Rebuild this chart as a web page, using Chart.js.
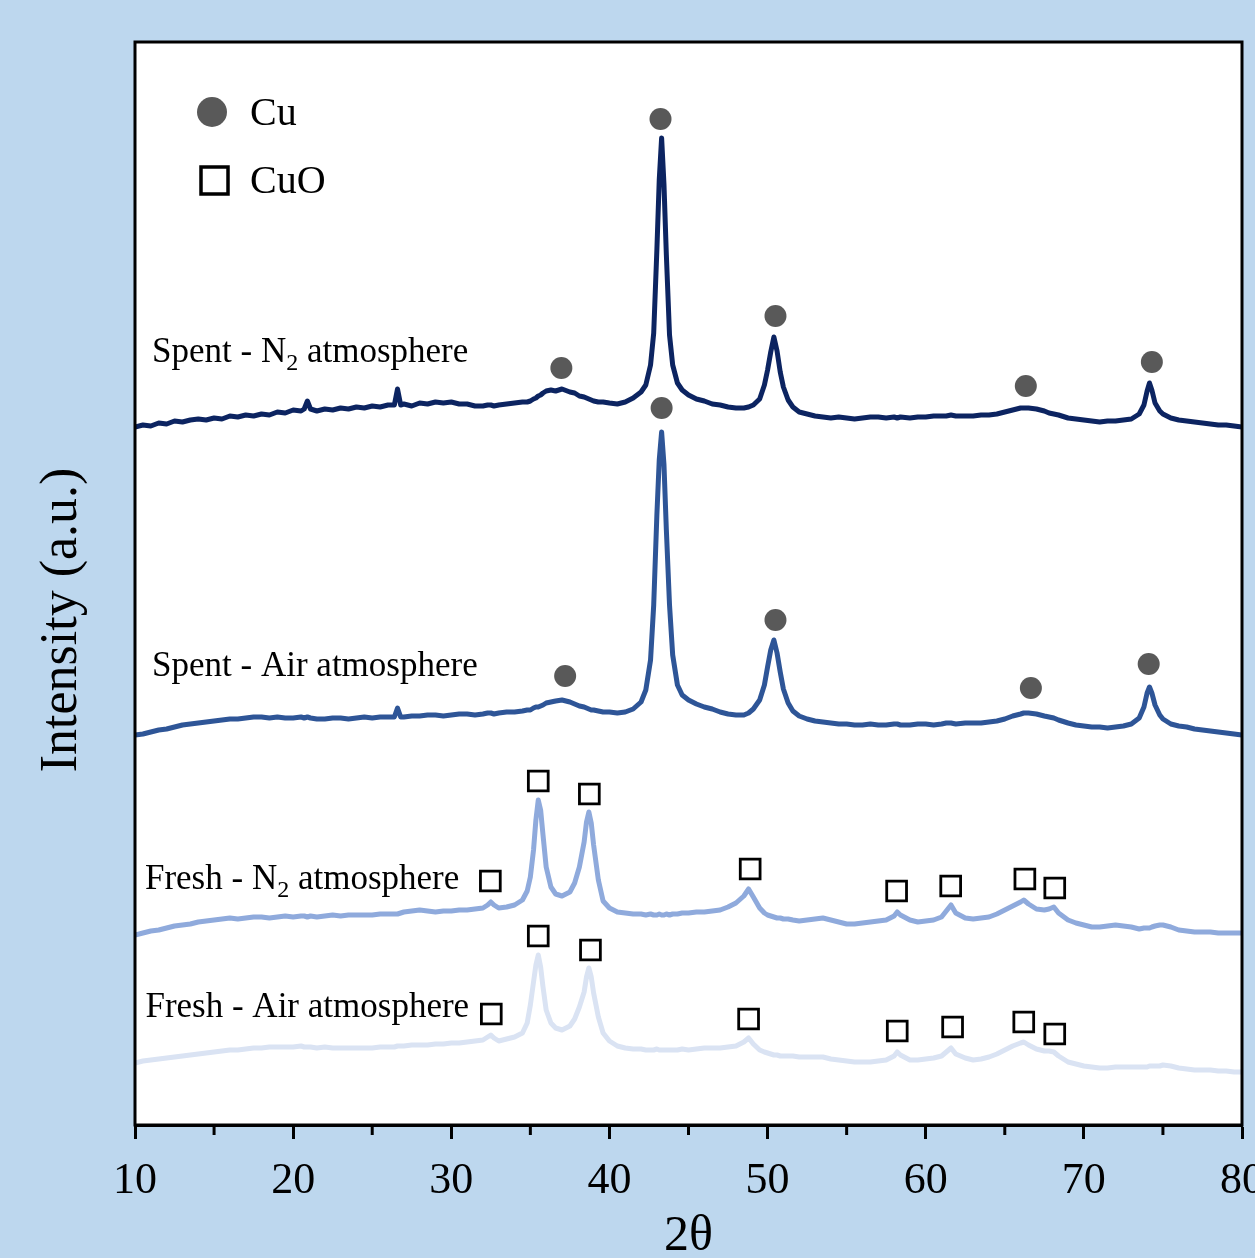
<!DOCTYPE html>
<html>
<head>
<meta charset="utf-8">
<script src="https://cdn.jsdelivr.net/npm/chart.js"></script>
<style>
  html, body { margin: 0; padding: 0; background: #bdd7ee; }
</style>
</head>
<body>
<canvas id="xrdChart" width="1255" height="1258"></canvas>
<script>
// 2θ positions (degrees), shared by the four patterns
var twoTheta = [
  10, 10.5, 11, 11.5, 12, 12.5, 13, 13.5, 14, 14.5,
  15, 15.5, 16, 16.5, 17, 17.5, 18, 18.5, 19, 19.5,
  20, 20.5, 20.7, 20.9, 21.1, 21.5, 22, 22.5, 23, 23.5,
  24, 24.5, 25, 25.5, 26, 26.4, 26.6, 26.8, 27, 27.5,
  28, 28.5, 29, 29.5, 30, 30.5, 31, 31.5, 32, 32.3,
  32.5, 32.7, 33, 33.5, 34, 34.5, 34.8, 35, 35.2, 35.35,
  35.5, 35.65, 35.8, 36, 36.3, 36.6, 37, 37.5, 37.8, 38.1,
  38.4, 38.55, 38.7, 38.85, 39, 39.3, 39.6, 40, 40.5, 41,
  41.5, 42, 42.3, 42.6, 42.8, 43, 43.15, 43.3, 43.45, 43.6,
  43.8, 44, 44.3, 44.6, 45, 45.5, 46, 46.5, 47, 47.5,
  48, 48.5, 48.8, 49.1, 49.5, 49.8, 50, 50.2, 50.4, 50.6,
  50.8, 51, 51.3, 51.6, 52, 52.5, 53, 53.5, 54, 54.5,
  55, 55.5, 56, 56.5, 57, 57.5, 58, 58.2, 58.4, 59,
  59.5, 60, 60.5, 61, 61.3, 61.6, 61.9, 62.5, 63, 63.5,
  64, 64.5, 65, 65.5, 66, 66.2, 66.5, 67, 67.5, 67.8,
  68.1, 68.4, 69, 69.5, 70, 70.5, 71, 71.5, 72, 72.5,
  73, 73.5, 73.8, 74, 74.15, 74.3, 74.5, 74.8, 75, 75.5,
  76, 76.5, 77, 77.5, 78, 78.5, 79, 79.5, 80
];

// intensities (a.u.), each pattern shifted up as in the figure
var spentN2 = [
  69.8, 70.0, 69.9, 70.2, 70.1, 70.4, 70.3, 70.5, 70.6, 70.5,
  70.7, 70.6, 70.9, 70.8, 71.0, 70.9, 71.1, 71.0, 71.3, 71.2,
  71.5, 71.4, 71.6, 72.4, 71.6, 71.4, 71.6, 71.5, 71.7, 71.6,
  71.8, 71.7, 71.9, 71.8, 72.0, 72.0, 73.6, 72.0, 72.1, 71.9,
  72.2, 72.1, 72.3, 72.2, 72.3, 72.1, 72.1, 71.9, 71.9, 72.0,
  72.0, 71.9, 72.0, 72.1, 72.2, 72.3, 72.3, 72.4, 72.6, 72.7,
  72.9, 73.0, 73.2, 73.4, 73.5, 73.4, 73.6, 73.3, 73.2, 72.9,
  72.8, 72.7, 72.6, 72.5, 72.4, 72.3, 72.3, 72.2, 72.1, 72.3,
  72.7, 73.3, 74.0, 76.0, 79.2, 87.5, 94.5, 98.7, 94.0, 87.0,
  79.0, 76.0, 74.2, 73.5, 73.0, 72.6, 72.4, 72.1, 72.0, 71.8,
  71.7, 71.7, 71.8, 72.0, 72.6, 74.0, 75.5, 77.3, 78.8, 77.4,
  75.3, 73.8, 72.5, 71.8, 71.3, 71.1, 70.9, 70.8, 70.7, 70.8,
  70.7, 70.6, 70.7, 70.8, 70.8, 70.7, 70.8, 70.7, 70.8, 70.7,
  70.8, 70.8, 70.9, 70.9, 70.9, 71.0, 70.9, 70.9, 70.9, 71.0,
  71.0, 71.1, 71.3, 71.5, 71.7, 71.7, 71.7, 71.6, 71.4, 71.2,
  71.1, 71.0, 70.7, 70.6, 70.5, 70.4, 70.3, 70.4, 70.4, 70.5,
  70.6, 71.1, 72.0, 73.4, 74.2, 73.5, 72.2, 71.4, 71.1, 70.7,
  70.5, 70.4, 70.3, 70.2, 70.1, 70.0, 70.0, 69.9, 69.8
];
var spentAir = [
  39.0, 39.1, 39.3, 39.5, 39.6, 39.8, 40.0, 40.1, 40.2, 40.3,
  40.4, 40.5, 40.6, 40.6, 40.7, 40.8, 40.8, 40.7, 40.8, 40.7,
  40.7, 40.8, 40.7, 40.8, 40.7, 40.6, 40.6, 40.7, 40.7, 40.6,
  40.7, 40.8, 40.7, 40.8, 40.8, 40.8, 41.7, 40.8, 40.8, 40.9,
  40.9, 41.0, 41.0, 40.9, 41.0, 41.1, 41.1, 41.0, 41.1, 41.2,
  41.2, 41.1, 41.2, 41.3, 41.3, 41.4, 41.5, 41.5, 41.7, 41.8,
  41.8, 41.9, 42.0, 42.2, 42.3, 42.4, 42.5, 42.3, 42.1, 41.9,
  41.8, 41.7, 41.6, 41.5, 41.5, 41.4, 41.3, 41.3, 41.2, 41.3,
  41.6, 42.3, 43.5, 46.5, 52.0, 61.0, 66.5, 69.3, 66.0, 59.5,
  52.0, 47.0, 44.0, 43.0, 42.5, 42.1, 41.8, 41.6, 41.3, 41.1,
  41.0, 41.0, 41.2, 41.6, 42.5, 44.0, 45.8, 47.5, 48.5, 47.2,
  45.3, 43.6, 42.2, 41.4, 40.9, 40.6, 40.4, 40.3, 40.2, 40.1,
  40.1, 40.0, 40.0, 40.1, 40.0, 40.0, 40.1, 40.1, 40.0, 40.0,
  40.1, 40.1, 40.0, 40.1, 40.2, 40.2, 40.1, 40.2, 40.2, 40.2,
  40.3, 40.4, 40.6, 40.9, 41.1, 41.2, 41.2, 41.1, 40.9, 40.8,
  40.7, 40.5, 40.2, 40.0, 39.9, 39.8, 39.8, 39.7, 39.8, 39.9,
  40.1, 40.7, 41.8, 43.2, 43.8, 43.2, 42.0, 41.0, 40.6, 40.1,
  39.9, 39.8, 39.6, 39.5, 39.4, 39.3, 39.2, 39.1, 39.0
];
var freshN2 = [
  19.0, 19.2, 19.4, 19.5, 19.7, 19.9, 20.0, 20.1, 20.3, 20.4,
  20.5, 20.6, 20.7, 20.6, 20.7, 20.8, 20.8, 20.7, 20.8, 20.9,
  20.8, 20.9, 20.9, 20.8, 20.9, 20.8, 20.9, 21.0, 20.9, 21.0,
  21.0, 21.0, 21.0, 21.1, 21.1, 21.1, 21.1, 21.2, 21.3, 21.4,
  21.5, 21.4, 21.3, 21.4, 21.4, 21.5, 21.5, 21.6, 21.7, 22.0,
  22.3, 22.0, 21.7, 21.8, 22.0, 22.5, 23.4, 24.8, 27.5, 30.5,
  32.5, 31.5, 29.0, 25.8, 23.8, 23.1, 22.9, 23.3, 24.2, 25.8,
  28.3, 30.3, 31.3, 30.2, 28.0, 24.5, 22.4, 21.7, 21.3, 21.2,
  21.1, 21.1, 21.0, 21.1, 21.0, 21.0, 21.1, 21.0, 21.0, 21.1,
  21.0, 21.1, 21.1, 21.2, 21.2, 21.3, 21.3, 21.4, 21.5, 21.8,
  22.2, 22.9, 23.6, 22.8, 21.7, 21.2, 21.0, 20.9, 20.8, 20.7,
  20.7, 20.6, 20.6, 20.5, 20.4, 20.5, 20.6, 20.7, 20.5, 20.3,
  20.1, 20.1, 20.2, 20.3, 20.4, 20.5, 20.9, 21.3, 21.0, 20.5,
  20.3, 20.4, 20.5, 20.8, 21.4, 22.0, 21.2, 20.7, 20.6, 20.7,
  20.8, 21.1, 21.5, 21.9, 22.3, 22.5, 22.1, 21.6, 21.5, 21.6,
  21.8, 21.2, 20.5, 20.2, 20.0, 19.8, 19.8, 19.9, 20.0, 19.9,
  19.8, 19.6, 19.7, 19.7, 19.7, 19.8, 19.9, 20.0, 20.0, 19.8,
  19.5, 19.4, 19.3, 19.3, 19.3, 19.2, 19.2, 19.2, 19.2
];
var freshAir = [
  6.2, 6.4, 6.5, 6.6, 6.7, 6.8, 6.9, 7.0, 7.1, 7.2,
  7.3, 7.4, 7.5, 7.5, 7.6, 7.7, 7.7, 7.8, 7.8, 7.8,
  7.8, 7.9, 7.8, 7.8, 7.8, 7.7, 7.8, 7.7, 7.7, 7.7,
  7.7, 7.7, 7.7, 7.8, 7.8, 7.8, 7.9, 7.9, 7.9, 8.0,
  8.0, 8.0, 8.1, 8.1, 8.2, 8.2, 8.3, 8.4, 8.5, 8.8,
  9.0, 8.7, 8.4, 8.6, 8.8, 9.2, 10.2, 12.0, 14.3, 16.0,
  17.0, 15.8, 13.8, 11.5, 10.2, 9.7, 9.5, 9.9, 10.6, 11.8,
  13.3, 14.8, 15.7, 14.8, 13.2, 10.8, 9.2, 8.4, 7.9, 7.7,
  7.6, 7.6, 7.5, 7.5, 7.5, 7.6, 7.5, 7.5, 7.5, 7.5,
  7.5, 7.5, 7.5, 7.6, 7.5, 7.6, 7.7, 7.7, 7.7, 7.8,
  7.9, 8.3, 8.7, 8.1, 7.5, 7.3, 7.2, 7.1, 7.0, 7.0,
  6.9, 6.9, 6.9, 6.9, 6.8, 6.8, 6.8, 6.8, 6.6, 6.5,
  6.4, 6.3, 6.3, 6.3, 6.4, 6.5, 6.9, 7.3, 7.0, 6.5,
  6.5, 6.6, 6.7, 6.9, 7.3, 7.7, 7.1, 6.7, 6.5, 6.6,
  6.8, 7.1, 7.5, 7.9, 8.2, 8.3, 8.0, 7.6, 7.4, 7.4,
  7.3, 6.9, 6.3, 6.1, 5.9, 5.8, 5.7, 5.7, 5.8, 5.8,
  5.8, 5.8, 5.8, 5.8, 5.9, 5.9, 5.9, 5.9, 6.0, 5.9,
  5.7, 5.6, 5.5, 5.5, 5.5, 5.4, 5.4, 5.3, 5.3
];

// phase markers above the reflections
var cuMarkX = [36.96, 43.23, 50.5, 66.33, 74.3, 37.2, 43.3, 50.5, 66.65, 74.1];
var cuMarkY = [75.7, 100.6, 80.9, 73.9, 76.3, 44.9, 71.7, 50.5, 43.7, 46.1];
var cuoMarkX = [32.47, 35.5, 38.73, 48.9, 58.16, 61.58, 66.27, 68.16,
                32.53, 35.5, 38.8, 48.8, 58.2, 61.7, 66.2, 68.16];
var cuoMarkY = [24.4, 34.4, 33.1, 25.6, 23.4, 23.9, 24.6, 23.7,
                11.1, 18.9, 17.5, 10.6, 9.4, 9.8, 10.3, 9.1];

var serif = "'Liberation Serif', 'Times New Roman', serif";

function toPoints(xs, ys) {
  return xs.map(function (x, i) { return { x: x, y: ys[i] }; });
}

function curve(label, ys, color) {
  return {
    label: label,
    data: toPoints(twoTheta, ys),
    showLine: true,
    borderColor: color,
    borderWidth: 5,
    borderJoinStyle: 'round',
    pointRadius: 0,
    tension: 0,
    order: 2
  };
}

// background, frame, minor ticks, y title, legend and curve labels
var decorations = {
  id: 'decorations',
  beforeDraw: function (chart) {
    var ctx = chart.ctx, a = chart.chartArea;
    ctx.save();
    ctx.fillStyle = '#bdd7ee';
    ctx.fillRect(0, 0, chart.width, chart.height);
    ctx.fillStyle = '#ffffff';
    ctx.fillRect(a.left, a.top, a.right - a.left, a.bottom - a.top);
    ctx.restore();
  },
  afterDraw: function (chart) {
    var ctx = chart.ctx, a = chart.chartArea;
    var xs = chart.scales.x, ys = chart.scales.y;
    ctx.save();
    ctx.strokeStyle = '#000';
    ctx.lineWidth = 3;
    ctx.strokeRect(a.left, a.top, a.right - a.left, a.bottom - a.top);

    // minor ticks (shorter than the labelled ones)
    xs.ticks.forEach(function (t) {
      if (t.value % 10 !== 0) {
        var px = xs.getPixelForValue(t.value);
        ctx.beginPath();
        ctx.moveTo(px, a.bottom);
        ctx.lineTo(px, a.bottom + 10);
        ctx.stroke();
      }
    });

    // y axis title
    ctx.fillStyle = '#000';
    ctx.save();
    ctx.translate(62, 620);
    ctx.rotate(-Math.PI / 2);
    ctx.font = '52px ' + serif;
    ctx.textAlign = 'center';
    ctx.textBaseline = 'middle';
    ctx.fillText('Intensity (a.u.)', 0, 0);
    ctx.restore();

    // legend
    ctx.fillStyle = '#595959';
    ctx.beginPath();
    ctx.arc(a.left + 77, a.top + 70, 15, 0, Math.PI * 2);
    ctx.fill();
    ctx.strokeStyle = '#000';
    ctx.lineWidth = 3.5;
    ctx.strokeRect(a.left + 66, a.top + 125, 27, 27);
    ctx.fillStyle = '#000';
    ctx.font = '40px ' + serif;
    ctx.textAlign = 'left';
    ctx.textBaseline = 'alphabetic';
    ctx.fillText('Cu', a.left + 115, a.top + 83);
    ctx.fillText('CuO', a.left + 115, a.top + 151);

    // curve labels
    var labels = [
      { parts: ['Spent - N', '2', ' atmosphere'], x: 11.08, y: 76.3 },
      { parts: ['Spent - Air atmosphere'], x: 11.08, y: 44.9 },
      { parts: ['Fresh - N', '2', ' atmosphere'], x: 10.63, y: 23.6 },
      { parts: ['Fresh - Air atmosphere'], x: 10.66, y: 10.8 }
    ];
    labels.forEach(function (lb) {
      var px = xs.getPixelForValue(lb.x), py = ys.getPixelForValue(lb.y);
      lb.parts.forEach(function (t, i) {
        var sub = (i === 1);
        ctx.font = (sub ? '24px ' : '35px ') + serif;
        ctx.fillText(t, px, py + (sub ? 8 : 0));
        px += ctx.measureText(t).width;
      });
    });
    ctx.restore();
  }
};

var ctx = document.getElementById('xrdChart').getContext('2d');
var xrdChart = new Chart(ctx, {
  type: 'scatter',
  data: {
    datasets: [
      {
        label: 'Cu',
        data: toPoints(cuMarkX, cuMarkY),
        pointStyle: 'circle',
        pointRadius: 11,
        backgroundColor: '#595959',
        borderWidth: 0,
        clip: false,
        order: 0
      },
      {
        label: 'CuO',
        data: toPoints(cuoMarkX, cuoMarkY),
        pointStyle: 'rect',
        pointRadius: 14,
        backgroundColor: 'rgba(255,255,255,0)',
        borderColor: '#000',
        borderWidth: 2.8,
        clip: false,
        order: 0
      },
      curve('Spent - N2 atmosphere', spentN2, '#0c2461'),
      curve('Spent - Air atmosphere', spentAir, '#2e5597'),
      curve('Fresh - N2 atmosphere', freshN2, '#8faadc'),
      curve('Fresh - Air atmosphere', freshAir, '#dae3f3')
    ]
  },
  options: {
    responsive: false,
    animation: false,
    layout: {
      autoPadding: false,
      padding: { left: 135, right: 13, top: 42, bottom: 0 }
    },
    plugins: {
      legend: { display: false },
      tooltip: { enabled: false }
    },
    scales: {
      x: {
        type: 'linear',
        min: 10,
        max: 80,
        ticks: {
          stepSize: 5,
          autoSkip: false,
          maxRotation: 0,
          padding: 16,
          color: '#000',
          font: { family: serif, size: 44 },
          callback: function (v) { return v % 10 === 0 ? v : ''; }
        },
        grid: {
          drawOnChartArea: false,
          tickLength: 14,
          tickWidth: 3,
          tickColor: function (c) {
            return c.tick && c.tick.value % 10 === 0 ? '#000' : 'rgba(0,0,0,0)';
          }
        },
        border: { display: true, color: '#000', width: 3 },
        title: {
          display: true,
          text: '2θ',
          color: '#000',
          font: { family: serif, size: 50 },
          padding: { top: 0, bottom: -9 }
        },
        afterFit: function (scale) {
          scale.height = 133;
          scale.paddingLeft = 0;
          scale.paddingRight = 0;
        }
      },
      y: {
        display: false,
        min: 0,
        max: 108.3
      }
    }
  },
  plugins: [decorations]
});
</script>
</body>
</html>
